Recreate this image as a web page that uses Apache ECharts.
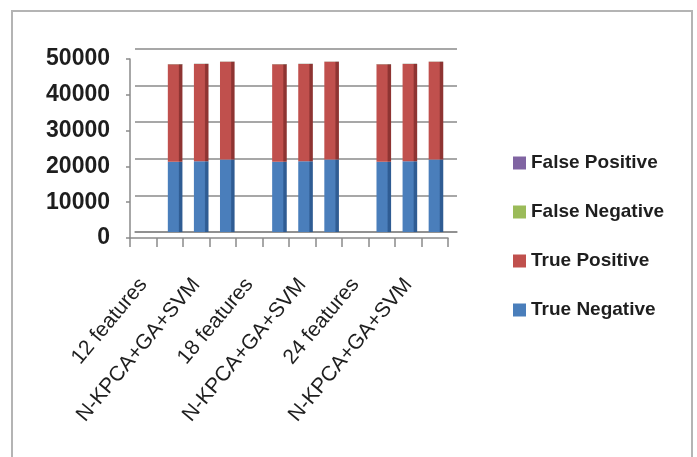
<!DOCTYPE html>
<html>
<head>
<meta charset="utf-8">
<script src="https://cdn.jsdelivr.net/npm/echarts@6/dist/echarts.min.js"></script>
<style>
  html, body { margin: 0; padding: 0; background: #ffffff; }
  #chart { width: 697px; height: 457px; }
</style>
</head>
<body>
<div id="chart"></div>
<script>
// Categories: one header per feature set, then three classifier runs (only every other label shows)
const categories = ['12 features', '', 'N-KPCA+GA+SVM', '', '18 features', '', 'N-KPCA+GA+SVM', '', '24 features', '', 'N-KPCA+GA+SVM', ''];

// Confusion-matrix counts per category (header categories carry no bars)
const trueNegative  = [null, 19200, 19300, 19800, null, 19200, 19300, 19800, null, 19200, 19300, 19800];
const truePositive  = [null, 26600, 26600, 26700, null, 26600, 26600, 26700, null, 26600, 26600, 26700];
const falseNegative = [null, 60, 50, 40, null, 60, 50, 40, null, 60, 50, 40];
const falsePositive = [null, 50, 40, 30, null, 50, 40, 30, null, 50, 40, 30];

const yTicks = [0, 10000, 20000, 30000, 40000, 50000];
const legendOrder = ['False Positive', 'False Negative', 'True Positive', 'True Negative'];

const FONT = '"Liberation Sans", Arial, sans-serif';

const palette = {
  'True Negative':  ['#4a7ebb', '#2f5c93'],
  'True Positive':  ['#c0504d', '#8e3432'],
  'False Negative': ['#9bbb59', '#769040'],
  'False Positive': ['#8064a2', '#5d4779']
};

// column shading: flat face with a darker right edge
function columnFill(base, edge) {
  return new echarts.graphic.LinearGradient(0, 0, 1, 0, [
    { offset: 0, color: base },
    { offset: 0.72, color: base },
    { offset: 0.8, color: edge },
    { offset: 1, color: edge }
  ]);
}

function stackSeries(name, data) {
  const [base, edge] = palette[name];
  return {
    name: name,
    type: 'bar',
    stack: 'total',
    xAxisIndex: 2,
    yAxisIndex: 2,
    barWidth: '56%',
    data: data,
    itemStyle: { color: columnFill(base, edge) },
    emphasis: { disabled: true }
  };
}

const chart = echarts.init(document.getElementById('chart'), null, { renderer: 'canvas' });

chart.setOption({
  backgroundColor: '#ffffff',
  animation: false,
  textStyle: { fontFamily: FONT },
  graphic: [{
    type: 'rect',
    shape: { x: 12, y: 11, width: 680, height: 470 },
    style: { fill: 'none', stroke: '#b4b4b4', lineWidth: 2 },
    silent: true,
    z: -10
  }],
  legend: {
    data: legendOrder.map(n => ({ name: n, itemStyle: { color: palette[n][0] } })),
    orient: 'vertical',
    left: 508,
    top: 148,
    itemWidth: 13,
    itemHeight: 13,
    itemGap: 29,
    icon: 'rect',
    selectedMode: false,
    textStyle: { fontFamily: FONT, fontSize: 19, fontWeight: 'bold', color: '#1e1e1e', lineHeight: 20 }
  },
  grid: [
    // front plane: axis line, ticks and labels
    { left: 130, right: 249, top: 59, bottom: 219 },
    // back wall: gridlines
    { left: 135, right: 240, top: 49, bottom: 225 },
    // columns, set back from the front plane
    { left: 136, right: 248, top: 49, bottom: 225 }
  ],
  xAxis: [
    {
      gridIndex: 0,
      type: 'category',
      data: categories,
      axisLine: { lineStyle: { color: '#8a8a8a', width: 1.5 } },
      axisTick: { show: true, length: 9, interval: 0, lineStyle: { color: '#8a8a8a', width: 1.5 } },
      axisLabel: {
        interval: 1,
        rotate: 50,
        margin: 43,
        fontFamily: FONT,
        fontSize: 21,
        color: '#1e1e1e'
      },
      splitLine: { show: false }
    },
    {
      gridIndex: 1,
      type: 'category',
      data: categories,
      axisLine: { show: true, lineStyle: { color: '#8a8a8a', width: 1.5 } },
      axisTick: { show: false },
      axisLabel: { show: false }
    },
    {
      gridIndex: 2,
      type: 'category',
      data: categories,
      axisLine: { show: false },
      axisTick: { show: false },
      axisLabel: { show: false }
    }
  ],
  yAxis: [
    {
      gridIndex: 0,
      type: 'value',
      min: yTicks[0],
      max: yTicks[yTicks.length - 1],
      interval: yTicks[1] - yTicks[0],
      axisLine: { show: true, lineStyle: { color: '#8a8a8a', width: 1.5 } },
      axisTick: { show: true, length: 4, lineStyle: { color: '#8a8a8a', width: 1.5 } },
      axisLabel: {
        fontFamily: FONT, fontSize: 23, fontWeight: 'bold', color: '#1e1e1e', margin: 20,
        formatter: v => String(v)
      },
      splitLine: { show: false }
    },
    {
      gridIndex: 1,
      type: 'value',
      min: yTicks[0],
      max: yTicks[yTicks.length - 1],
      interval: yTicks[1] - yTicks[0],
      axisLine: { show: false },
      axisTick: { show: false },
      axisLabel: { show: false },
      splitLine: { show: true, lineStyle: { color: '#8a8a8a', width: 1.5 } }
    },
    {
      gridIndex: 2,
      type: 'value',
      min: yTicks[0],
      max: yTicks[yTicks.length - 1],
      show: false,
      splitLine: { show: false }
    }
  ],
  series: [
    stackSeries('True Negative', trueNegative),
    stackSeries('True Positive', truePositive),
    stackSeries('False Negative', falseNegative),
    stackSeries('False Positive', falsePositive)
  ]
});
</script>
</body>
</html>
